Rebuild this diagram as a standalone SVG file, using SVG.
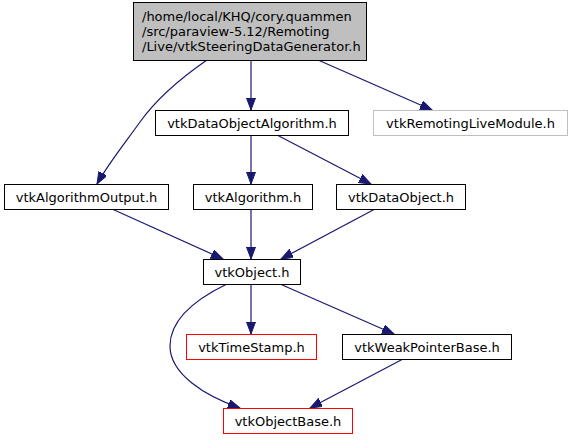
<svg xmlns="http://www.w3.org/2000/svg" width="571" height="440" viewBox="0 0 571 440">
<defs>
<style>
text{font-family:"DejaVu Sans","Liberation Sans",sans-serif;font-size:13px;fill:#000}
.n{fill:#fff;stroke:#000;stroke-width:1}
.g{fill:#fff;stroke:#bfbfbf;stroke-width:1}
.r{fill:#fff;stroke:#ff0000;stroke-width:1}
.e{fill:none;stroke:#191970;stroke-width:1.2;marker-end:url(#a)}
</style>
<marker id="a" markerUnits="userSpaceOnUse" markerWidth="13" markerHeight="10" refX="12" refY="4.5" orient="auto">
<path d="M0,0 L12,4.5 L0,9 Z" fill="#191970" stroke="#191970"/>
</marker>
</defs>
<rect width="571" height="440" fill="#fff"/>
<g id="edges">
<path class="e" d="M207,60 C178,80 155,101 140,122 C125,143 108,164 97,184"/>
<path class="e" d="M251,60 L251,110"/>
<path class="e" d="M318,60 L432,110"/>
<path class="e" d="M251,135 L251,184"/>
<path class="e" d="M277,135 L371,184"/>
<path class="e" d="M112,209 L223,259"/>
<path class="e" d="M251,209 L251,259"/>
<path class="e" d="M375,209 L281,259"/>
<path class="e" d="M251,284 L251,334"/>
<path class="e" d="M280,284 L394,334"/>
<path class="e" d="M227,284 C198,298 170,318 170,346 C170,374 205,396 240,408"/>
<path class="e" d="M403,359 L310,408"/>
</g>
<g id="n0">
<rect x="133.5" y="2.5" width="233" height="58" fill="#bfbfbf" stroke="#000"/>
<text x="142" y="20.5">/home/local/KHQ/cory.quammen</text>
<text x="142" y="35.5">/src/paraview-5.12/Remoting</text>
<text x="142" y="50.5">/Live/vtkSteeringDataGenerator.h</text>
</g>
<g id="n1"><rect class="n" x="155.5" y="110.5" width="193" height="25"/><text x="252" y="127.5" text-anchor="middle">vtkDataObjectAlgorithm.h</text></g>
<g id="n2"><rect class="g" x="373.5" y="110.5" width="194" height="25"/><text x="470.5" y="127.5" text-anchor="middle">vtkRemotingLiveModule.h</text></g>
<g id="n3"><rect class="n" x="4.5" y="184.5" width="164" height="25"/><text x="86.5" y="201.5" text-anchor="middle">vtkAlgorithmOutput.h</text></g>
<g id="n4"><rect class="n" x="193.5" y="184.5" width="119" height="25"/><text x="253" y="201.5" text-anchor="middle">vtkAlgorithm.h</text></g>
<g id="n5"><rect class="n" x="336.5" y="184.5" width="129" height="25"/><text x="401" y="201.5" text-anchor="middle">vtkDataObject.h</text></g>
<g id="n6"><rect class="n" x="203.5" y="259.5" width="97" height="25"/><text x="252" y="276.5" text-anchor="middle">vtkObject.h</text></g>
<g id="n7"><rect class="r" x="186.5" y="334.5" width="130" height="25"/><text x="251.5" y="351.5" text-anchor="middle">vtkTimeStamp.h</text></g>
<g id="n8"><rect class="n" x="342.5" y="334.5" width="169" height="25"/><text x="427" y="351.5" text-anchor="middle">vtkWeakPointerBase.h</text></g>
<g id="n9"><rect class="r" x="223.5" y="408.5" width="129" height="25"/><text x="288" y="425.5" text-anchor="middle">vtkObjectBase.h</text></g>
</svg>
